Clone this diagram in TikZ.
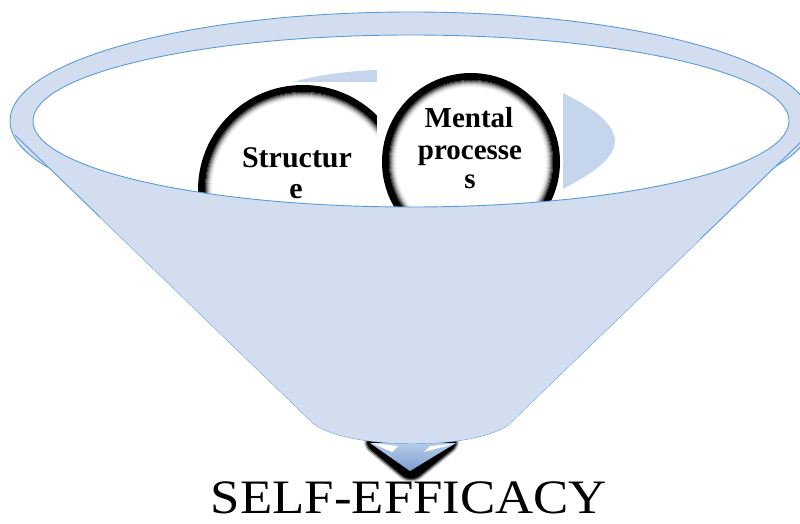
\documentclass[tikz,border=0pt]{standalone}
\usepackage{fontspec}
\setmainfont{Liberation Serif}
\begin{document}
\begin{tikzpicture}[x=1pt,y=-1pt,
  funnelfill/.style={fill=funnelblue},
  funnelline/.style={draw=edgeblue,line width=0.9pt},
  ballring/.style={draw=black,line width=7pt},
  balltext/.style={font=\bfseries\fontsize{30}{30}\selectfont,inner sep=0pt,anchor=base},
]
\definecolor{funnelblue}{HTML}{D2DEEF}
\definecolor{edgeblue}{HTML}{5B9BD5}
\definecolor{ballblue}{HTML}{C5D5EB}
\definecolor{tipblue}{HTML}{B5CBEA}
\definecolor{tipdark}{HTML}{7F9FD0}

\useasboundingbox (0,0) rectangle (800,524);
\clip (0,0) rectangle (800,524);

% ---- output arrow below the funnel
\coordinate (tipL) at (370,443);
\coordinate (tipR) at (456,443);
\coordinate (tipB) at (410,471);
\foreach \w/\o in {18/0.25,15/0.55,12/1} {
  \fill[black,opacity=\o,rounded corners=6pt,draw=black,line width=\w pt,line join=round]
    (370,441) -- (453,441) -- (411,475) -- cycle;
}
\shade[top color=tipblue,bottom color=tipdark] (tipL) -- (tipR) -- (tipB) -- cycle;
\fill[white] (372,443) -- (398,446) -- (392,452) -- cycle;
\fill[white] (454,444) -- (424,452) -- (430,446) -- cycle;

% ---- funnel body
\coordinate (rimC) at (411,121);
\fill[funnelfill] (rimC) ellipse [x radius=401pt, y radius=109pt];
\draw[funnelline] (rimC) ellipse [x radius=401pt, y radius=109pt];
\coordinate (coneTL) at (15,135);
\coordinate (coneBL) at (313,423);
\coordinate (coneBR) at (508,425);
\coordinate (coneTR) at (806,137);
\fill[funnelfill] (coneTL) -- (coneBL) .. controls (345,449) and (470,451) .. (coneBR) -- (coneTR) -- cycle;
\draw[funnelline] (coneTL) -- (coneBL) .. controls (345,449) and (470,451) .. (coneBR) -- (coneTR);

% ---- mouth of the funnel
\fill[white] (rimC) ellipse [x radius=378pt, y radius=86pt];
\begin{scope}
  \clip (rimC) ellipse [x radius=378pt, y radius=86pt];
  % background balls
  \fill[ballblue] (293,82) .. controls (318,75) and (348,71) .. (377,70) -- (377,82) -- cycle;
  \fill[ballblue] (563,93) .. controls (582,103) and (614,119) .. (615,141)
                  .. controls (614,163) and (582,178) .. (563,189) -- cycle;

  % left ball
  \begin{scope}
    \clip (150,82) rectangle (377,260);
    \coordinate (ballA) at (303,190);
    \fill[white] (ballA) circle[radius=105pt];
    \foreach \d/\o in {7.5/0.75,8.5/0.55,9.5/0.38,10.5/0.25,11.5/0.15,12.5/0.08,13.5/0.04} {
      \draw[black,opacity=\o,line width=1.1pt] (ballA) circle[radius=105pt-\d pt];
    }
    \draw[ballring] (ballA) circle[radius=101.5pt];
    \node[balltext] (structA) at (297,167) {Structur};
    \node[balltext] (structB) at (296,198) {e};
  \end{scope}

  % right ball
  \fill[white] (377,62) rectangle (563,260);
  \coordinate (ballB) at (471,162);
  \foreach \d/\o in {7.5/0.75,8.5/0.55,9.5/0.38,10.5/0.25,11.5/0.15,12.5/0.08,13.5/0.04} {
    \draw[black,opacity=\o,line width=1.1pt] (ballB) circle[radius=89pt-\d pt];
  }
  \draw[ballring] (ballB) circle[radius=85.5pt];
  \node[balltext,font=\bfseries\fontsize{29}{29}\selectfont] (mentA) at (469,128) {Mental};
  \node[balltext,font=\bfseries\fontsize{29}{29}\selectfont] (mentB) at (470,160) {processe};
  \node[balltext,font=\bfseries\fontsize{29}{29}\selectfont] (mentC) at (470,188) {s};
\end{scope}

% front face of the cone over the lower half of the mouth
\begin{scope}
  \clip (100,121) rectangle (700,524);
  \fill[funnelfill,even odd rule] (-21,100) -- (coneBL) .. controls (345,449) and (470,451) .. (coneBR) -- (844,100) -- cycle
    (rimC) ellipse [x radius=378pt, y radius=86pt];
\end{scope}
\draw[funnelline] (rimC) ellipse [x radius=378pt, y radius=86pt];

% ---- caption
\node[font=\fontsize{48}{48}\selectfont,inner sep=0pt,anchor=base,xscale=1.1] (caption) at (409,513) {SELF-EFFICACY};
\end{tikzpicture}
\end{document}
